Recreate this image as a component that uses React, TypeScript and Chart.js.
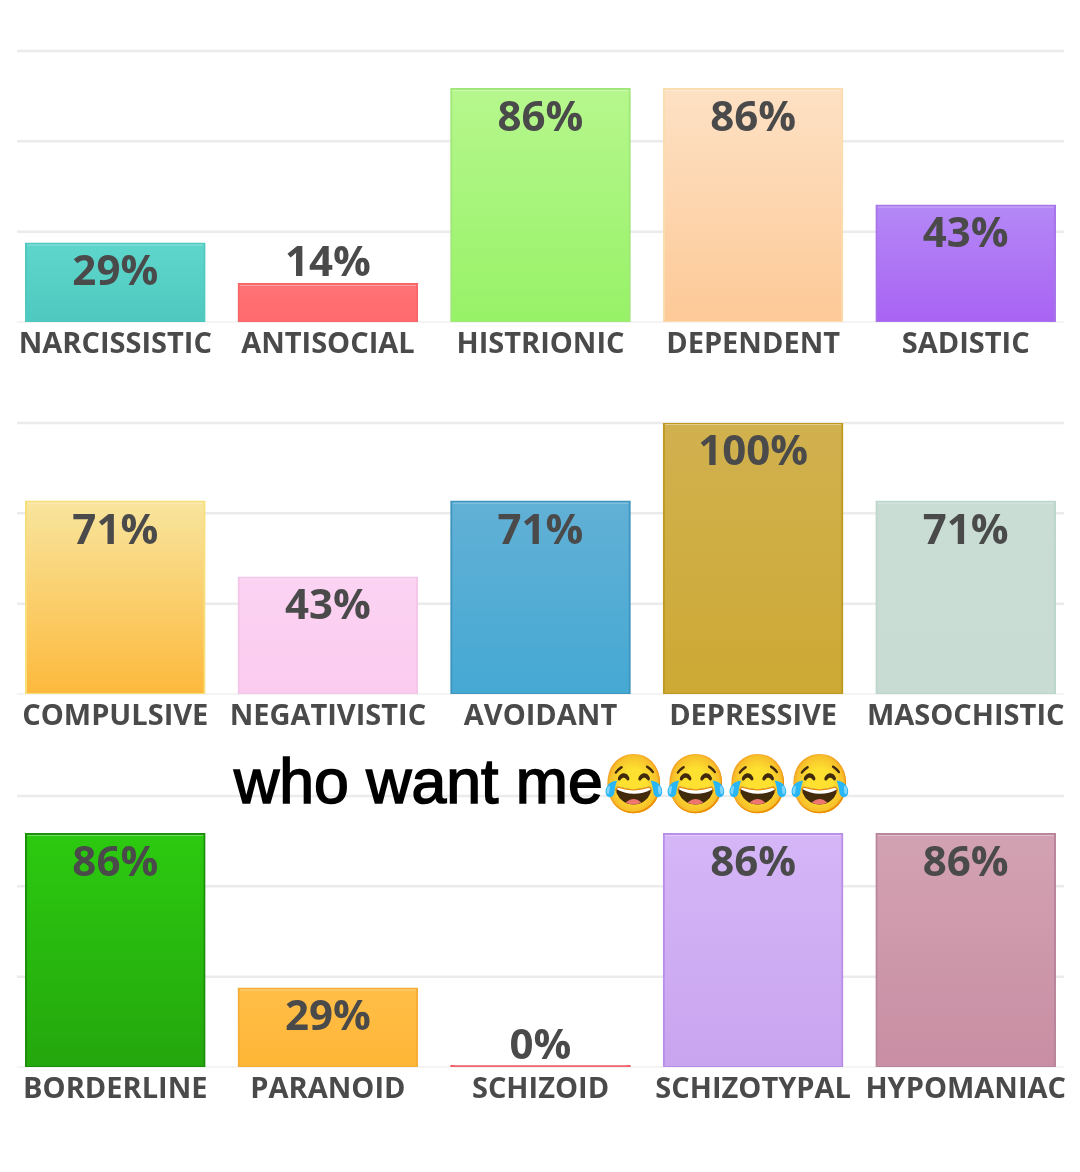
import React, { useEffect, useRef } from "react";
import { Chart, registerables } from "chart.js";

Chart.register(...registerables);

const topLabels = ["NARCISSISTIC", "ANTISOCIAL", "HISTRIONIC", "DEPENDENT", "SADISTIC"];
const topValues = [29, 14, 86, 86, 43];
const middleLabels = ["COMPULSIVE", "NEGATIVISTIC", "AVOIDANT", "DEPRESSIVE", "MASOCHISTIC"];
const middleValues = [71, 43, 71, 100, 71];
const bottomLabels = ["BORDERLINE", "PARANOID", "SCHIZOID", "SCHIZOTYPAL", "HYPOMANIAC"];
const bottomValues = [86, 29, 0, 86, 86];

const topFills = [["#5fd6cb", "#4ec9bf"], ["#ff7376", "#ff6b6e"], ["#b6f78d", "#97f267"], ["#fde1c4", "#fdc997"], ["#b488f6", "#a963f3"]];
const topEdges = ["#4fc9bf", "#f9666a", "#9fe878", "#fbdcae", "#a774ea"];
const middleFills = [["#f8e59e", "#fdb93c"], ["#fbd3f3", "#fbcbee"], ["#62b0d6", "#45a9d3"], ["#d1b14f", "#cda934"], ["#c9ddd5", "#c8dcd4"]];
const middleEdges = ["#f6df7a", "#f3c5e8", "#3c94bf", "#bb9a1e", "#bcd6cb"];
const bottomFills = [["#2cca10", "#24a70d"], ["#ffbe48", "#ffb636"], ["#f4636e", "#f4636e"], ["#d5b6f7", "#c9a4ef"], ["#d2a2b2", "#c98ea3"]];
const bottomEdges = ["#1c8f0a", "#f4ad35", "#ef5a66", "#b98ee8", "#b9859b"];

const gridAndValues = {
  id: "gridAndValues",
  beforeDatasetsDraw(chart: any) {
    const { ctx, scales } = chart;
    ctx.save();
    scales.y.ticks.forEach((t: any, i: number) => {
      ctx.beginPath();
      ctx.strokeStyle = i === 0 ? "#f0f0f0" : "#ebebeb";
      ctx.lineWidth = i === 0 ? 1.5 : 2.5;
      const y = scales.y.getPixelForValue(t.value);
      ctx.moveTo(17, y);
      ctx.lineTo(1064, y);
      ctx.stroke();
    });
    ctx.restore();
  },
  afterDatasetsDraw(chart: any) {
    const { ctx, scales } = chart;
    const data = chart.data.datasets[0].data as number[];
    ctx.save();
    chart.getDatasetMeta(0).data.forEach((bar: any, i: number) => {
      const v = data[i];
      const y = scales.y.getPixelForValue(v);
      if (v > 0) {
        ctx.strokeStyle = "rgba(255,255,255,0.35)";
        ctx.lineWidth = 1;
        ctx.beginPath();
        ctx.moveTo(bar.x - 88, y + 1.5);
        ctx.lineTo(bar.x + 88, y + 1.5);
        ctx.stroke();
      }
      ctx.fillStyle = "#4a4a4a";
      ctx.font = "bold 42px 'Open Sans'";
      ctx.textAlign = "center";
      ctx.textBaseline = "middle";
      ctx.fillText(`${v}%`, bar.x, v < 20 ? y - 20 : y + 30);
    });
    ctx.restore();
  },
};

function Panel({ top, labels, values, fills, edges }: any) {
  const ref = useRef<HTMLCanvasElement>(null);
  useEffect(() => {
    const chart = new Chart(ref.current!, {
      type: "bar",
      data: {
        labels,
        datasets: [{
          data: values,
          backgroundColor: (c: any) => {
            const { chart: ch, dataIndex } = c;
            const [a, b] = fills[dataIndex];
            if (!ch.chartArea || values[dataIndex] === 0) return a;
            const g = ch.ctx.createLinearGradient(0, ch.scales.y.getPixelForValue(values[dataIndex]), 0, ch.scales.y.getPixelForValue(0));
            g.addColorStop(0, a);
            g.addColorStop(1, b);
            return g;
          },
          borderColor: edges,
          borderWidth: 2,
          borderSkipped: false,
          inflateAmount: 1,
          barPercentage: 0.84,
          categoryPercentage: 1,
          minBarLength: 1,
        }],
      },
      options: {
        animation: false,
        responsive: false,
        events: [],
        layout: { padding: { left: 9, right: 8, top: 2, bottom: 0 } },
        plugins: { legend: { display: false }, tooltip: { enabled: false } },
        scales: {
          x: {
            grid: { display: false },
            border: { display: false },
            ticks: {
              autoSkip: false,
              maxRotation: 0,
              minRotation: 0,
              padding: -3,
              color: "#4a4a4a",
              font: { family: "'Open Sans'", weight: "bold", size: 29 },
            },
            afterFit: (s: any) => { s.height = 60; },
          },
          y: { display: false, min: 0, max: 100, ticks: { stepSize: 100 / 3 } },
        },
      },
      plugins: [gridAndValues],
    } as any);
    return () => chart.destroy();
  }, []);
  return <canvas ref={ref} width={1080} height={333} style={{ position: "absolute", left: 0, top, display: "block" }} />;
}

export default function App() {
  return (
    <div style={{ position: "fixed", left: 0, top: 0, width: 1080, height: 1172, background: "#fff", overflow: "hidden" }}>
      <Panel top={49} labels={topLabels} values={topValues} fills={topFills} edges={topEdges} />
      <Panel top={421} labels={middleLabels} values={middleValues} fills={middleFills} edges={middleEdges} />
      <Panel top={794} labels={bottomLabels} values={bottomValues} fills={bottomFills} edges={bottomEdges} />
      <div style={{ position: "absolute", left: 234, top: 745, whiteSpace: "nowrap", fontFamily: "'Liberation Sans', sans-serif", fontSize: 62.6, lineHeight: "72px", color: "#000", WebkitTextStroke: "1.6px #000" }}>
        who want me<span style={{ display: "inline-block", fontSize: 49.6, WebkitTextStroke: "0", position: "relative", top: -2, transform: "scaleY(1.17)", transformOrigin: "50% 50%" }}>😂😂😂😂</span>
      </div>
    </div>
  );
}
